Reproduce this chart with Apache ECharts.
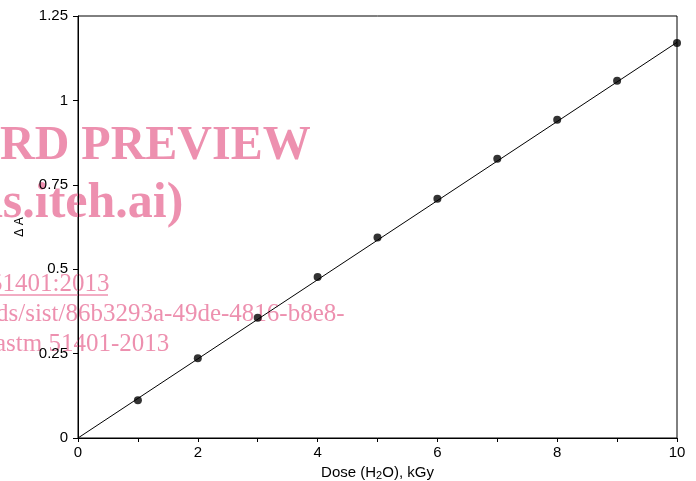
<!DOCTYPE html>
<html>
<head>
<meta charset="utf-8">
<script src="https://cdn.jsdelivr.net/npm/echarts@6/dist/echarts.min.js"></script>
<style>
  html, body { margin: 0; padding: 0; background: #fff; }
  #chart { width: 696px; height: 481px; }
</style>
</head>
<body>
<div id="chart"></div>
<script>
// Measured absorbance change vs. absorbed dose in water
const doseKGy = [1, 2, 3, 4, 5, 6, 7, 8, 9, 10];
const deltaA = [0.112, 0.236, 0.356, 0.477, 0.594, 0.709, 0.827, 0.943, 1.058, 1.170];

// Linear response line through the origin
const fitDose = [0, 10];
const fitDeltaA = [0, 1.172];

// Axis ticks
const xTicks = [0, 2, 4, 6, 8, 10];
const yTicks = [0, 0.25, 0.5, 0.75, 1, 1.25];

// Preview watermark lines
const markLines = [
  'RD PREVIEW',
  'ds.iteh.ai)',
  '51401:2013',
  'ds/sist/86b3293a-49de-4816-b8e8-',
  'astm 51401-2013'
];

const pink = 'rgba(233,120,158,0.82)';
const font = '"Liberation Sans", Arial, sans-serif';
const serif = '"Liberation Serif", "Times New Roman", serif';

const chart = echarts.init(document.getElementById('chart'), null, { renderer: 'canvas' });

chart.setOption({
  animation: false,
  backgroundColor: '#fff',
  grid: {
    left: 78, right: 19, top: 16, bottom: 43,
    outerBoundsMode: 'none',
    containLabel: false,
    show: true, borderColor: '#000', borderWidth: 1
  },
  xAxis: {
    type: 'value',
    min: 0, max: 10, interval: 1,
    name: '{a|Dose (H}{s|2}{a|O), kGy}',
    nameLocation: 'middle',
    nameGap: 27,
    nameTextStyle: {
      rich: {
        a: { fontFamily: font, fontSize: 15, color: '#000' },
        s: { fontFamily: font, fontSize: 11, color: '#000', padding: [5, 0, 0, 0] }
      }
    },
    axisLine: { show: true, lineStyle: { color: '#000', width: 1 } },
    axisTick: { show: true, inside: false, length: 4, lineStyle: { color: '#000' } },
    axisLabel: {
      margin: 7,
      fontFamily: font, fontSize: 15, color: '#000',
      formatter: v => (xTicks.indexOf(v) >= 0 ? String(v) : '')
    },
    splitLine: { show: false }
  },
  yAxis: {
    type: 'value',
    min: 0, max: 1.25, interval: 0.25,
    name: 'Δ A',
    nameLocation: 'middle',
    nameRotate: 90,
    nameGap: 52,
    nameTextStyle: { fontFamily: font, fontSize: 12, color: '#000' },
    axisLine: { show: true, lineStyle: { color: '#000', width: 1 } },
    axisTick: { show: true, inside: false, length: 5, lineStyle: { color: '#000' } },
    axisLabel: {
      margin: 10,
      fontFamily: font, fontSize: 15, color: '#000',
      formatter: v => (yTicks.indexOf(v) >= 0 ? String(v) : '')
    },
    splitLine: { show: false }
  },
  series: [
    {
      type: 'line',
      data: fitDose.map((d, i) => [d, fitDeltaA[i]]),
      showSymbol: false,
      symbol: 'none',
      lineStyle: { color: '#000', width: 1 },
      z: 2
    },
    {
      type: 'scatter',
      data: doseKGy.map((d, i) => [d, deltaA[i]]),
      symbol: 'circle',
      symbolSize: 8,
      itemStyle: { color: '#000' },
      z: 3
    }
  ],
  graphic: [
    {
      type: 'group', z: -10, silent: true,
      children: [
        { type: 'text', x: 0, y: 147, style: { text: markLines[0], font: 'bold 48px ' + serif, fill: pink, verticalAlign: 'middle' } },
        { type: 'text', x: -25, y: 204, style: { text: markLines[1], font: 'bold 50px ' + serif, fill: pink, verticalAlign: 'middle' } },
        { type: 'text', x: -10, y: 284, style: { text: markLines[2], font: '25px ' + serif, fill: pink, verticalAlign: 'middle' } },
        { type: 'line', shape: { x1: 0, y1: 295, x2: 108, y2: 295 }, style: { stroke: pink, lineWidth: 1.5 } },
        { type: 'text', x: -4, y: 314, style: { text: markLines[3], font: '25px ' + serif, fill: pink, verticalAlign: 'middle' } },
        { type: 'text', x: -5, y: 344, style: { text: markLines[4], font: '25px ' + serif, fill: pink, verticalAlign: 'middle' } }
      ]
    }
  ]
});
</script>
</body>
</html>
